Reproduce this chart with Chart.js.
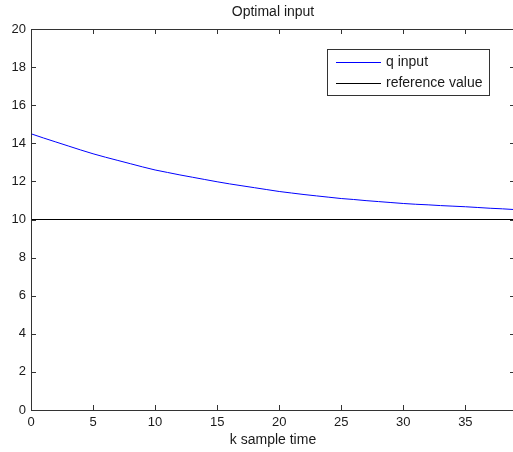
<!DOCTYPE html>
<html>
<head>
<meta charset="utf-8">
<script src="https://cdn.jsdelivr.net/npm/chart.js@4.4.1/dist/chart.umd.min.js"></script>
<style>
    html, body { margin: 0; padding: 0; background: #fff; overflow: hidden; }
    canvas { display: block; }
</style>
</head>
<body>
<canvas id="inputChart" width="516" height="452"></canvas>
<script>
// Данные графика
const kSamples = [0, 1, 2, 3, 4, 5, 6, 7, 8, 9, 10, 11, 12, 13, 14, 15, 16, 17, 18, 19,
                  20, 21, 22, 23, 24, 25, 26, 27, 28, 29, 30, 31, 32, 33, 34, 35, 36, 37, 38, 39];
const qInput = [14.50, 14.28, 14.07, 13.86, 13.65, 13.45, 13.27, 13.10, 12.93, 12.76,
                12.60, 12.47, 12.34, 12.22, 12.10, 11.98, 11.87, 11.77, 11.67, 11.57,
                11.47, 11.39, 11.31, 11.24, 11.17, 11.10, 11.05, 10.99, 10.94, 10.89,
                10.84, 10.80, 10.77, 10.73, 10.70, 10.67, 10.63, 10.59, 10.56, 10.52];
const kReference = [0, 39];
const referenceValue = [10, 10];
const xTicks = [0, 5, 10, 15, 20, 25, 30, 35];
const yTicks = [0, 2, 4, 6, 8, 10, 12, 14, 16, 18, 20];

const FAMILY = '"Liberation Sans", Arial, sans-serif';
const TICK_FONT = { family: FAMILY, size: 13 };
const TEXT_FONT = { family: FAMILY, size: 14 };
const TEXT_COLOR = '#1a1a1a';
const AXIS_COLOR = '#333333';

// Рамка осей и засечки внутрь (как в MATLAB)
const axesBox = {
    id: 'axesBox',
    afterDatasetsDraw(chart) {
        const { ctx, chartArea: a, scales } = chart;
        const tick = 5;
        ctx.save();
        ctx.strokeStyle = AXIS_COLOR;
        ctx.lineWidth = 1;
        ctx.beginPath();
        ctx.rect(Math.round(a.left) + 0.5, Math.round(a.top) + 0.5,
                 Math.round(a.right) - Math.round(a.left), Math.round(a.bottom) - Math.round(a.top));
        scales.x.ticks.forEach(t => {
            const x = Math.round(scales.x.getPixelForValue(t.value)) + 0.5;
            ctx.moveTo(x, a.bottom); ctx.lineTo(x, a.bottom - tick);
            ctx.moveTo(x, a.top); ctx.lineTo(x, a.top + tick);
        });
        scales.y.ticks.forEach(t => {
            const y = Math.round(scales.y.getPixelForValue(t.value)) + 0.5;
            ctx.moveTo(a.left, y); ctx.lineTo(a.left + tick, y);
            ctx.moveTo(a.right, y); ctx.lineTo(a.right - tick, y);
        });
        ctx.stroke();
        ctx.restore();
    }
};

// Легенда в рамке
const boxLegend = {
    id: 'boxLegend',
    afterDraw(chart) {
        const ctx = chart.ctx;
        const x = 327.5, y = 49.5, w = 162, h = 46;
        ctx.save();
        ctx.fillStyle = '#fff';
        ctx.fillRect(x, y, w, h);
        ctx.strokeStyle = AXIS_COLOR;
        ctx.lineWidth = 1;
        ctx.strokeRect(x, y, w, h);
        ctx.font = `${TEXT_FONT.size}px ${TEXT_FONT.family}`;
        ctx.textBaseline = 'middle';
        ctx.fillStyle = TEXT_COLOR;
        chart.data.datasets.forEach((ds, i) => {
            const ly = Math.round(62 + i * 20.6) + 0.5;
            ctx.strokeStyle = ds.borderColor;
            ctx.beginPath();
            ctx.moveTo(336, ly);
            ctx.lineTo(381, ly);
            ctx.stroke();
            ctx.fillText(ds.label, 386, ly);
        });
        ctx.restore();
    }
};

const ctx = document.getElementById('inputChart').getContext('2d');
const chart = new Chart(ctx, {
    type: 'line',
    data: {
        datasets: [{
            label: 'q input',
            data: kSamples.map((k, i) => ({ x: k, y: qInput[i] })),
            borderColor: '#0000ff',
            borderWidth: 1,
            pointRadius: 0,
            tension: 0
        }, {
            label: 'reference value',
            data: kReference.map((k, i) => ({ x: k, y: referenceValue[i] })),
            borderColor: '#000000',
            borderWidth: 1,
            pointRadius: 0,
            tension: 0
        }]
    },
    options: {
        responsive: false,
        animation: false,
        layout: { padding: { left: 0, right: 1, top: 0, bottom: 0 } },
        plugins: {
            legend: { display: false },
            tooltip: { enabled: false },
            title: { display: false }
        },
        scales: {
            x: {
                type: 'linear',
                min: 0,
                max: 39,
                grid: { display: false, drawTicks: false },
                border: { display: false },
                afterBuildTicks: (scale) => { scale.ticks = xTicks.map(v => ({ value: v })); },
                afterFit: (scale) => { scale.height = 42; },
                ticks: { color: TEXT_COLOR, font: TICK_FONT, padding: 5, maxRotation: 0 },
                title: {
                    display: true,
                    text: 'k sample time',
                    color: TEXT_COLOR,
                    font: TEXT_FONT,
                    padding: { top: 0, bottom: 3.6 }
                }
            },
            // верхняя ось только для заголовка, центрированного над графиком
            top: {
                type: 'linear',
                position: 'top',
                min: 0,
                max: 39,
                grid: { display: false, drawTicks: false },
                border: { display: false },
                ticks: { display: false },
                afterFit: (scale) => { scale.height = 29; },
                title: {
                    display: true,
                    text: 'Optimal input',
                    color: TEXT_COLOR,
                    font: TEXT_FONT,
                    padding: { top: 3.6, bottom: 8.6 }
                }
            },
            y: {
                min: 0,
                max: 20,
                grid: { display: false, drawTicks: false },
                border: { display: false },
                afterBuildTicks: (scale) => { scale.ticks = yTicks.map(v => ({ value: v })); },
                afterFit: (scale) => { scale.width = 31; },
                ticks: { color: TEXT_COLOR, font: TICK_FONT, padding: 5 }
            }
        }
    },
    plugins: [axesBox, boxLegend]
});
</script>
</body>
</html>
